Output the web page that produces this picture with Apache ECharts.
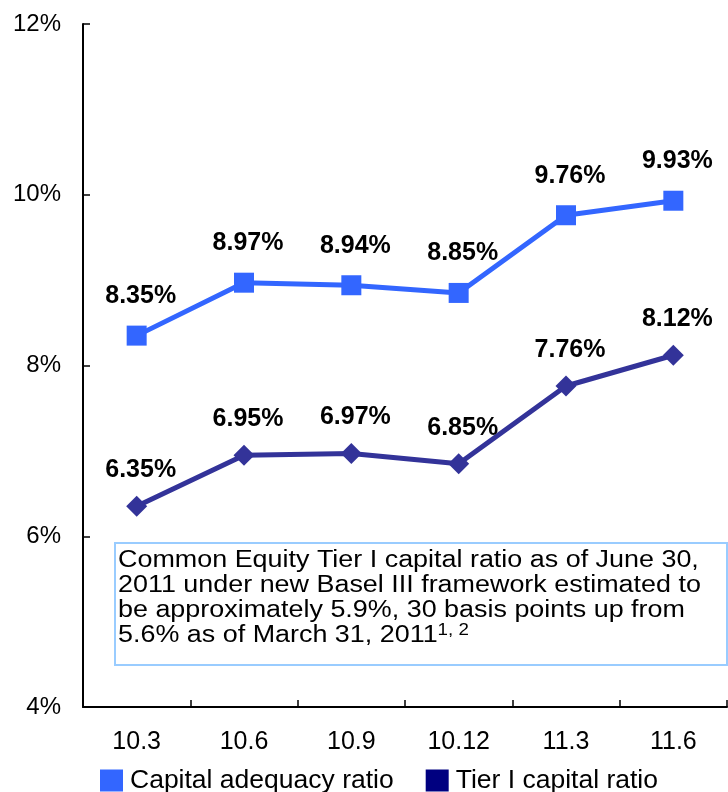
<!DOCTYPE html>
<html>
<head>
<meta charset="utf-8">
<script src="https://cdn.jsdelivr.net/npm/echarts@6/dist/echarts.min.js"></script>
<style>
  html, body { margin: 0; padding: 0; background: #fff; }
  #chart { width: 728px; height: 792px; }
</style>
</head>
<body>
<div id="chart"></div>
<script>
// Quarter labels (year.month)
const quarters = ['10.3', '10.6', '10.9', '10.12', '11.3', '11.6'];
// Ratios in percent
const capitalAdequacy = [8.35, 8.97, 8.94, 8.85, 9.76, 9.93];
const tierOne = [6.35, 6.95, 6.97, 6.85, 7.76, 8.12];
// Y-axis range and step (percent)
const yMin = 4, yMax = 12, yStep = 2;

const FONT = '"Liberation Sans", Arial, sans-serif';

const chart = echarts.init(document.getElementById('chart'), null, { renderer: 'canvas' });

const valueLabel = (dist) => ({
  show: true,
  position: 'top',
  distance: dist,
  offset: [4, 0],
  fontFamily: FONT,
  fontSize: 25,
  fontWeight: 'bold',
  color: '#000',
  formatter: (p) => p.value.toFixed(2) + '%'
});

chart.setOption({
  backgroundColor: '#fff',
  animation: false,
  grid: { left: 83, right: 1, top: 24, bottom: 85, containLabel: false },
  legend: {
    left: 100,
    top: 767,
    padding: 0,
    icon: 'rect',
    itemWidth: 23,
    itemHeight: 22,
    itemGap: 32,
    textStyle: { fontFamily: FONT, fontSize: 26.5, color: '#000', padding: [0, 0, 0, 2] },
    data: [
      { name: 'Capital adequacy ratio', itemStyle: { color: '#3366FF' } },
      { name: 'Tier I capital ratio', itemStyle: { color: '#000080' } }
    ]
  },
  xAxis: {
    type: 'category',
    data: quarters,
    boundaryGap: true,
    axisLine: { lineStyle: { color: '#000', width: 2 } },
    axisTick: { show: true, inside: true, length: 7, alignWithLabel: false, lineStyle: { color: '#000', width: 1.5 } },
    axisLabel: { fontFamily: FONT, fontSize: 25, color: '#000', margin: 23 },
    splitLine: { show: false }
  },
  yAxis: {
    type: 'value',
    min: yMin,
    max: yMax,
    interval: yStep,
    axisLine: { show: true, lineStyle: { color: '#000', width: 2 } },
    axisTick: { show: true, inside: true, length: 7, lineStyle: { color: '#000', width: 1.5 } },
    axisLabel: { fontFamily: FONT, fontSize: 24, color: '#000', margin: 22, formatter: (v) => v + '%' },
    splitLine: { show: false }
  },
  series: [
    {
      name: 'Capital adequacy ratio',
      type: 'line',
      data: capitalAdequacy,
      symbol: 'rect',
      symbolSize: 20,
      lineStyle: { color: '#3366FF', width: 5 },
      itemStyle: { color: '#3366FF' },
      label: valueLabel(17)
    },
    {
      name: 'Tier I capital ratio',
      type: 'line',
      data: tierOne,
      symbol: 'diamond',
      symbolSize: 21,
      lineStyle: { color: '#333399', width: 5 },
      itemStyle: { color: '#333399' },
      label: valueLabel(13)
    }
  ],
  graphic: [
    {
      type: 'rect',
      shape: { x: 115, y: 543, width: 612, height: 122 },
      style: { fill: '#fff', stroke: '#99CCFF', lineWidth: 2 },
      z: 10
    },
    {
      // Note text, widened slightly to fill the box
      type: 'text',
      x: 118,
      y: 548,
      scaleX: 1.17,
      z: 11,
      style: {
        text: '{t|Common Equity Tier I capital ratio as of June 30,}\n' +
              '{t|2011 under new Basel III framework estimated to}\n' +
              '{t|be approximately 5.9%, 30 basis points up from}\n' +
              '{t|5.6% as of March 31, 2011}{s|1, 2}',
        fill: '#000',
        rich: {
          t: { fontFamily: FONT, fontSize: 23, lineHeight: 25, fill: '#000' },
          s: { fontFamily: FONT, fontSize: 16, lineHeight: 25, fill: '#000', verticalAlign: 'top' }
        }
      }
    }
  ]
});
</script>
</body>
</html>
